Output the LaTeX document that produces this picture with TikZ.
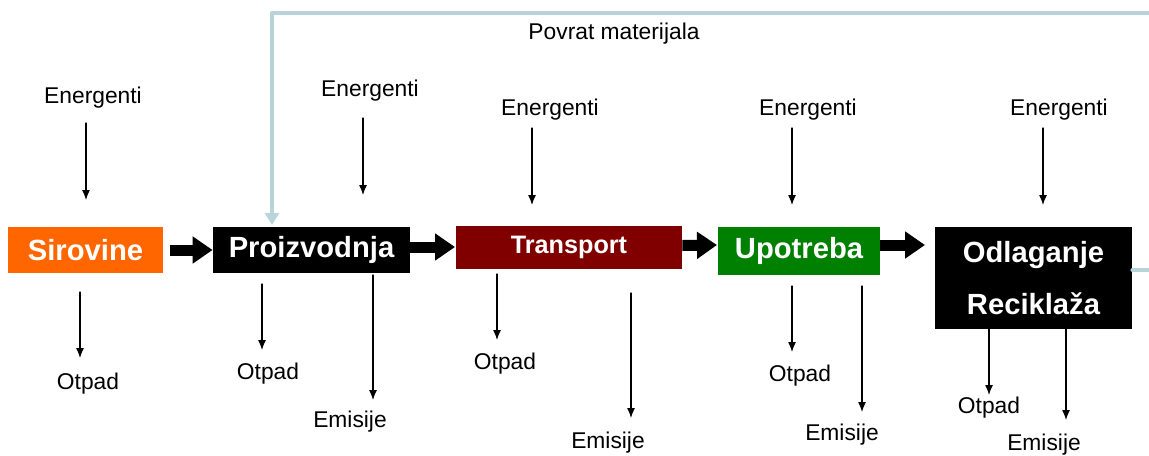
\documentclass[tikz,border=0pt]{standalone}
\usepackage{fontspec}
\setmainfont{Liberation Sans}
\usetikzlibrary{arrows.meta}
\definecolor{sirovinecol}{RGB}{255,102,0}
\definecolor{transportcol}{RGB}{128,0,0}
\definecolor{upotrebacol}{RGB}{0,128,0}
\definecolor{povratcol}{RGB}{184,212,216}
\tikzset{
  stage/.style={fill=#1,text=white,inner sep=0pt,font=\fontsize{14.6}{17.5}\selectfont\bfseries},
  tanka/.style={line width=0.6pt,-{Latex[length=5pt,width=4pt]}},
  debela/.style={line width=5.5pt,line cap=butt,-{Triangle[length=10pt,width=13pt]}},
  oznaka/.style={inner sep=0pt,font=\fontsize{11.4}{13.7}\selectfont}
}
\begin{document}
\begin{tikzpicture}[x=0.5pt,y=-0.5pt,line cap=round,line join=round]
\useasboundingbox (0,0) rectangle (1149,455);
\clip (0,0) rectangle (1149,455);
% faze
\node[stage=sirovinecol,minimum width=77.5pt,minimum height=23pt] (sir) at (85.5,250) {Sirovine};
\node[stage=black,minimum width=98.5pt,minimum height=23pt] (pro) at (311.5,250) {Proizvodnja};
\node[stage=transportcol,minimum width=113pt,minimum height=21.5pt,font=\fontsize{12.6}{15}\selectfont\bfseries] (tra) at (569,247.5) {Transport};
\node[stage=upotrebacol,minimum width=81pt,minimum height=24pt] (upo) at (799,251) {Upotreba};
\node[stage=black,minimum width=98.5pt,minimum height=51pt,align=center] (odl) at (1033.5,278) {Odlaganje\\[8.5pt]Reciklaža};
% glavni tok
\draw[debela] (170,250) -- (sir.east -| pro.west);
\draw[debela] (pro.east) ++(0,-3) -- (455,247);
\draw[debela] (tra.east) ++(0,-2) -- (717,245);
\draw[debela] (upo.east) ++(0,-6) -- (925,245);
% povrat materijala
\draw[povratcol,line width=2pt,-{Triangle[length=6pt,width=7pt]}] (odl.east |- 0,270) -- (1170,270) -- (1170,13) -- (272,13) -- (272,225);
\node[oznaka] (povrat) at (614,34) {Povrat materijala};
% energenti
\node[oznaka] (en1) at (93,98) {Energenti};
\node[oznaka] (en2) at (370,91) {Energenti};
\node[oznaka] (en3) at (550,110) {Energenti};
\node[oznaka] (en4) at (808,110) {Energenti};
\node[oznaka] (en5) at (1059,110) {Energenti};
\draw[tanka] (86,123) -- (86,200);
\draw[tanka] (363,118) -- (363,195);
\draw[tanka] (532,128) -- (532,205);
\draw[tanka] (792,128) -- (792,205);
\draw[tanka] (1043,128) -- (1043,205);
% otpad
\draw[tanka] (80,292) -- (80,358);
\draw[tanka] (262,284) -- (262,350);
\draw[tanka] (497,274) -- (497,340);
\draw[tanka] (792,286) -- (792,352);
\draw[tanka] (989,329) -- (989,395);
\node[oznaka] (ot1) at (88,384) {Otpad};
\node[oznaka] (ot2) at (268,374) {Otpad};
\node[oznaka] (ot3) at (505,364) {Otpad};
\node[oznaka] (ot4) at (800,376) {Otpad};
\node[oznaka] (ot5) at (989,408) {Otpad};
% emisije
\draw[tanka] (373,275) -- (373,400);
\draw[tanka] (631,293) -- (631,418);
\draw[tanka] (862,286) -- (862,412);
\draw[tanka] (1066,329) -- (1066,420);
\node[oznaka] (em2) at (350,422) {Emisije};
\node[oznaka] (em3) at (608,443) {Emisije};
\node[oznaka] (em4) at (842,435) {Emisije};
\node[oznaka] (em5) at (1044,445) {Emisije};
\end{tikzpicture}
\end{document}
